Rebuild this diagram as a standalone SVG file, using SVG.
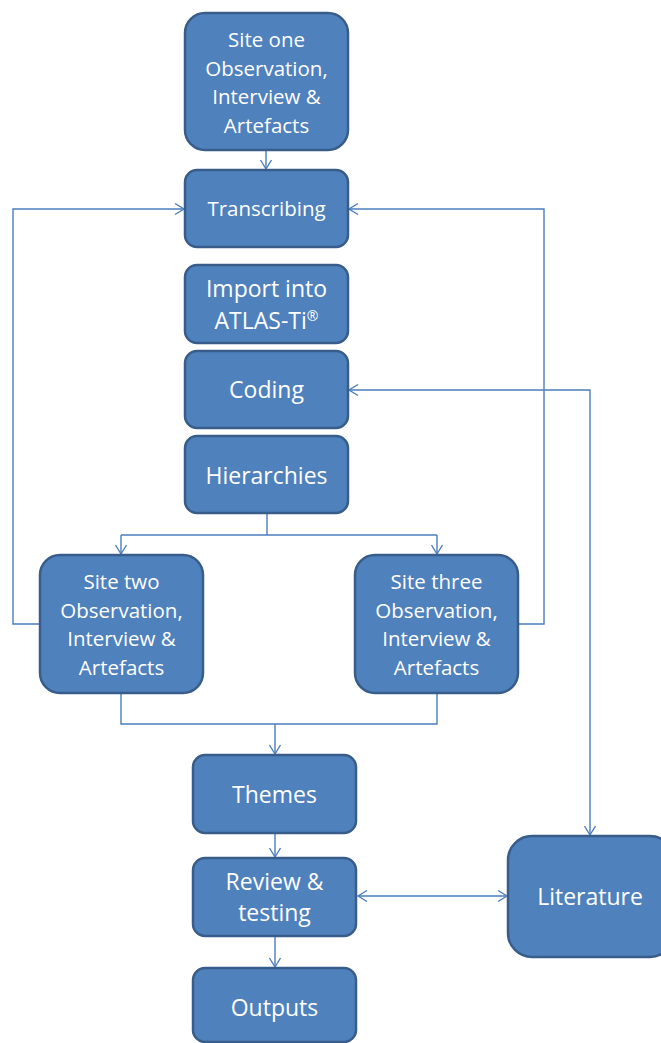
<svg xmlns="http://www.w3.org/2000/svg" width="661" height="1043" viewBox="0 0 661 1043">
<defs>
<marker id="arr" markerUnits="userSpaceOnUse" markerWidth="12" markerHeight="14" refX="10" refY="6" orient="auto-start-reverse" viewBox="0 0 12 12">
<path d="M1,0.5 L10,6 L1,11.5" fill="none" stroke="#4A7EBB" stroke-width="1.4"/>
</marker>
</defs>
<style>
.n{fill:#4F81BD;stroke:#385D8A;stroke-width:2.5}
.t{fill:#fff;font-family:"Open Sans","Liberation Sans",sans-serif;text-anchor:middle}
.s{font-size:20.5px}
.b{font-size:23px}
.c{fill:none;stroke:#4A7EBB;stroke-width:1.4}
</style>
<rect width="661" height="1043" fill="#fff"/>
<g id="connectors">
<path class="c" d="M266,150 V169" marker-end="url(#arr)"/>
<path class="c" d="M40,624 H13 V209 H184" marker-end="url(#arr)"/>
<path class="c" d="M518,624 H544 V209 H349" marker-end="url(#arr)"/>
<path class="c" d="M349,390 H590 V835" marker-start="url(#arr)" marker-end="url(#arr)"/>
<path class="c" d="M267,513 V535"/>
<path class="c" d="M121,535 H437"/>
<path class="c" d="M121,535 V554" marker-end="url(#arr)"/>
<path class="c" d="M437,535 V554" marker-end="url(#arr)"/>
<path class="c" d="M121,693 V724 H437 V693"/>
<path class="c" d="M275,724 V754" marker-end="url(#arr)"/>
<path class="c" d="M275,833 V857" marker-end="url(#arr)"/>
<path class="c" d="M275,936 V967" marker-end="url(#arr)"/>
<path class="c" d="M358,896 H507" marker-start="url(#arr)" marker-end="url(#arr)"/>
</g>
<g id="site1">
<rect class="n" x="185" y="13" width="163" height="137" rx="20"/>
<text class="t s"><tspan x="266.5" y="47">Site one</tspan><tspan x="266.5" y="75.5">Observation,</tspan><tspan x="266.5" y="104">Interview &amp;</tspan><tspan x="266.5" y="132.5">Artefacts</tspan></text>
</g>
<g id="transcribing">
<rect class="n" x="185" y="170" width="163" height="77" rx="12"/>
<text class="t s" x="266.5" y="216">Transcribing</text>
</g>
<g id="import">
<rect class="n" x="185" y="265" width="163" height="78" rx="12"/>
<text class="t b"><tspan x="266.5" y="297">Import into</tspan><tspan x="266.5" y="329">ATLAS-Ti<tspan font-size="14" dy="-8">®</tspan></tspan></text>
</g>
<g id="coding">
<rect class="n" x="185" y="351" width="163" height="77" rx="12"/>
<text class="t b" x="266.5" y="398">Coding</text>
</g>
<g id="hierarchies">
<rect class="n" x="185" y="436" width="163" height="77" rx="12"/>
<text class="t b" x="266.5" y="484">Hierarchies</text>
</g>
<g id="site2">
<rect class="n" x="40" y="555" width="163" height="138" rx="20"/>
<text class="t s"><tspan x="121.5" y="589">Site two</tspan><tspan x="121.5" y="617.5">Observation,</tspan><tspan x="121.5" y="646">Interview &amp;</tspan><tspan x="121.5" y="674.5">Artefacts</tspan></text>
</g>
<g id="site3">
<rect class="n" x="355" y="555" width="163" height="138" rx="20"/>
<text class="t s"><tspan x="436.5" y="589">Site three</tspan><tspan x="436.5" y="617.5">Observation,</tspan><tspan x="436.5" y="646">Interview &amp;</tspan><tspan x="436.5" y="674.5">Artefacts</tspan></text>
</g>
<g id="themes">
<rect class="n" x="193" y="755" width="163" height="78" rx="12"/>
<text class="t b" x="274.5" y="803">Themes</text>
</g>
<g id="review">
<rect class="n" x="193" y="858" width="163" height="78" rx="12"/>
<text class="t b"><tspan x="274.5" y="890">Review &amp;</tspan><tspan x="274.5" y="921">testing</tspan></text>
</g>
<g id="outputs">
<rect class="n" x="193" y="968" width="163" height="74" rx="12"/>
<text class="t b" x="274.5" y="1016">Outputs</text>
</g>
<g id="literature">
<rect class="n" x="508" y="836" width="166" height="121" rx="24"/>
<text class="t b" x="590" y="905">Literature</text>
</g>
</svg>
